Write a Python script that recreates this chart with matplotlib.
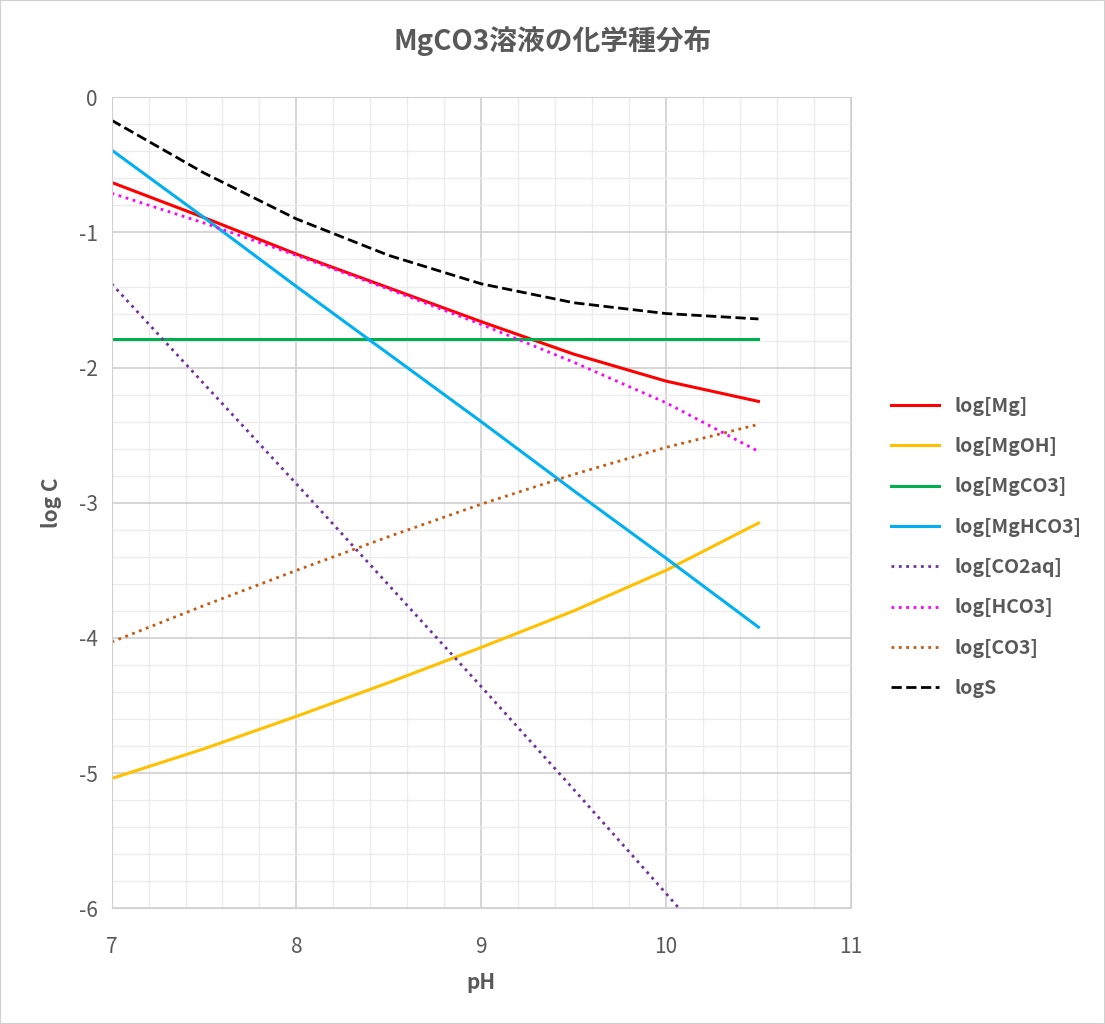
import numpy as np
import matplotlib.pyplot as plt
from matplotlib.ticker import MultipleLocator

plt.rcParams['font.family'] = ['Noto Sans CJK JP', 'DejaVu Sans']
plt.rcParams['axes.unicode_minus'] = False

ph = [7.0, 7.5, 8.0, 8.5, 9.0, 9.5, 10.0, 10.5]
log_mg = [-0.63, -0.89, -1.16, -1.41, -1.66, -1.90, -2.10, -2.25]
log_mgoh = [-5.04, -4.82, -4.58, -4.33, -4.07, -3.80, -3.50, -3.15]
log_mgco3 = [-1.79, -1.79, -1.79, -1.79, -1.79, -1.79, -1.79, -1.79]
log_mghco3 = [-0.39, -0.89, -1.40, -1.90, -2.40, -2.91, -3.41, -3.92]
ph_co2 = [7.0, 7.5, 8.0, 8.5, 9.0, 9.5, 10.0, 10.07]
log_co2aq = [-1.38, -2.12, -2.86, -3.61, -4.36, -5.12, -5.89, -6.0]
log_hco3 = [-0.71, -0.93, -1.17, -1.42, -1.68, -1.96, -2.26, -2.62]
log_co3 = [-4.03, -3.76, -3.50, -3.25, -3.01, -2.79, -2.59, -2.42]
log_s = [-0.17, -0.56, -0.90, -1.17, -1.38, -1.52, -1.60, -1.64]

fig = plt.figure(figsize=(11.05, 10.24), dpi=100)
ax = fig.add_axes([0.101, 0.113, 0.669, 0.792])

ax.plot(ph, log_mg, color='#ff0000', lw=2.2, label='log[Mg]')
ax.plot(ph, log_mgoh, color='#ffc000', lw=2.2, label='log[MgOH]')
ax.plot(ph, log_mgco3, color='#00b050', lw=2.2, label='log[MgCO3]')
ax.plot(ph, log_mghco3, color='#00b0f0', lw=2.2, label='log[MgHCO3]')
ax.plot(ph_co2, log_co2aq, color='#7030a0', lw=2, ls=':', label='log[CO2aq]')
ax.plot(ph, log_hco3, color='#ff00ff', lw=2, ls=':', label='log[HCO3]')
ax.plot(ph, log_co3, color='#c55a11', lw=2, ls=':', label='log[CO3]')
ax.plot(ph, log_s, color='black', lw=2, ls='--', label='logS')

ax.set_xlim(7, 11)
ax.set_ylim(-6, 0)
ax.xaxis.set_major_locator(MultipleLocator(1))
ax.xaxis.set_minor_locator(MultipleLocator(0.2))
ax.yaxis.set_major_locator(MultipleLocator(1))
ax.yaxis.set_minor_locator(MultipleLocator(0.2))
ax.grid(which='major', color='#d0d0d0', lw=1.2)
ax.grid(which='minor', color='#ececec', lw=1)
ax.set_axisbelow(True)
ax.tick_params(which='both', length=0, labelsize=15, colors='#595959', pad=10)
ax.tick_params(axis='x', pad=20)
for s in ax.spines.values():
    s.set_color('#d0d0d0')

ax.set_xlabel('pH', fontsize=15, fontweight='bold', color='#595959', labelpad=10)
ax.set_ylabel('log C', fontsize=15, fontweight='bold', color='#595959', labelpad=12)
fig.suptitle('MgCO3溶液の化学種分布', fontsize=20, fontweight='bold', color='#595959', y=0.975)

leg = ax.legend(loc='center left', bbox_to_anchor=(1.03, 0.445), frameon=False,
                fontsize=14, labelspacing=1.1, handlelength=2.5)
for t in leg.get_texts():
    t.set_color('#595959')
    t.set_fontweight('bold')

fig.patches.append(plt.Rectangle((0, 0), 1, 1, transform=fig.transFigure,
                                 fill=False, edgecolor='#d0d0d0', lw=1.5))
fig.savefig('out.png', dpi=100)
